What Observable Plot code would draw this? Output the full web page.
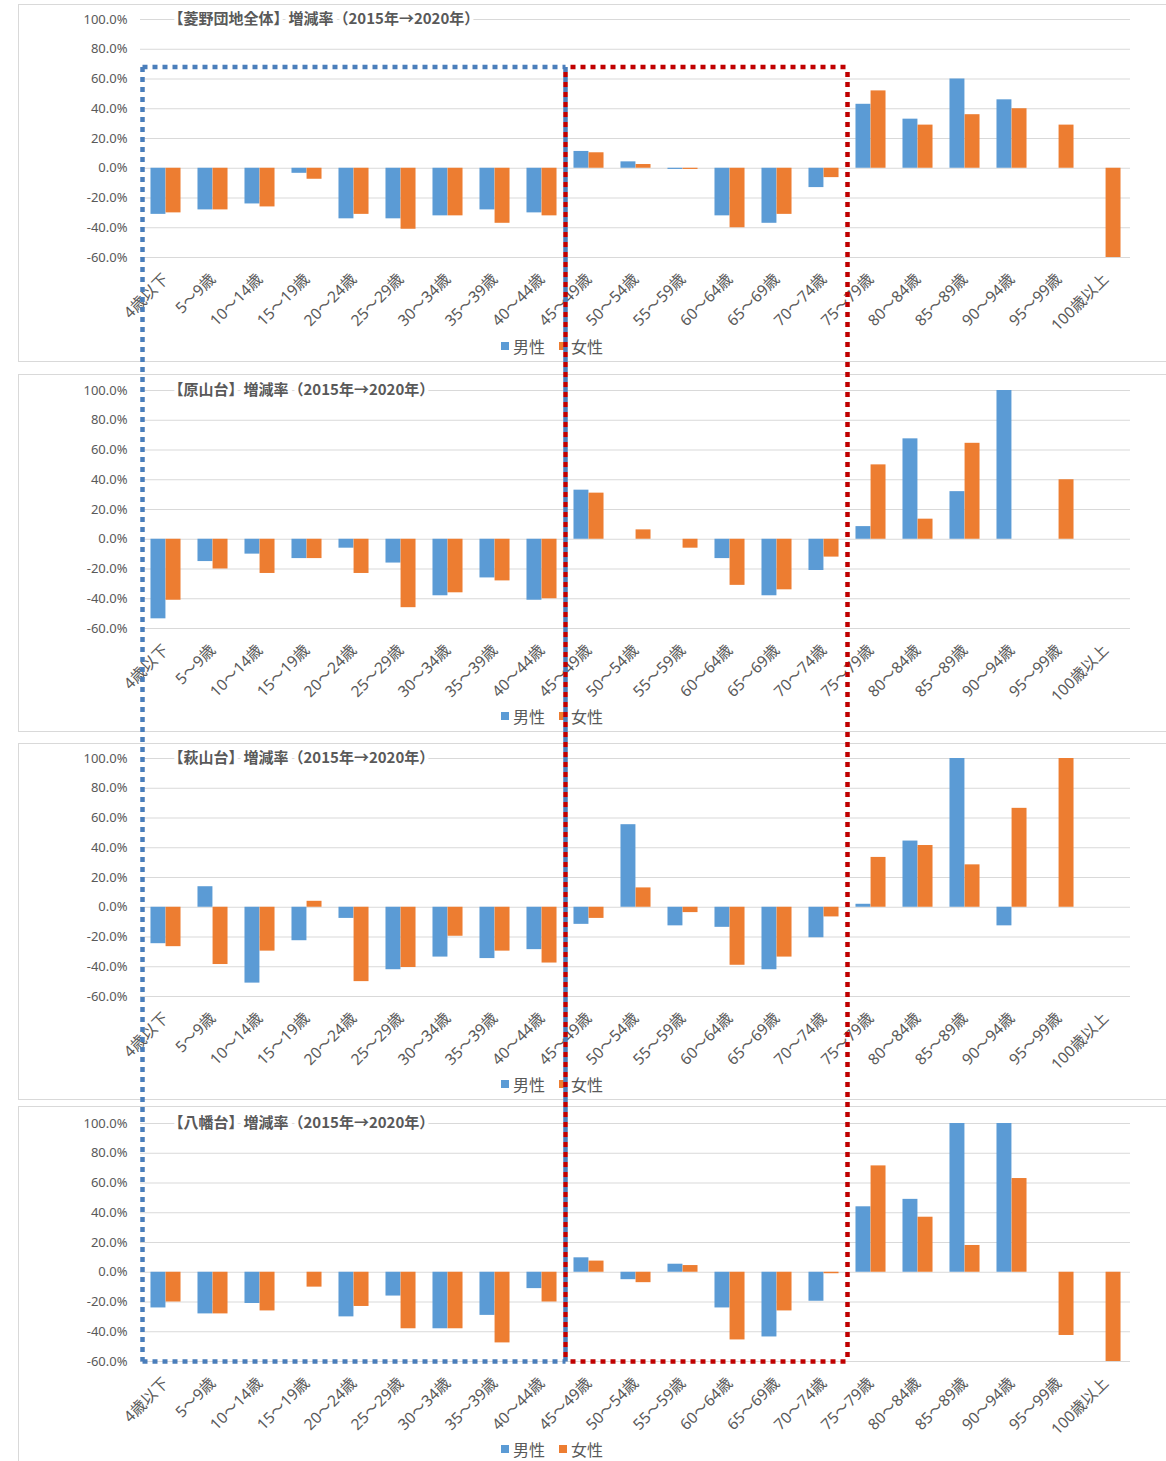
<!DOCTYPE html>
<html><head><meta charset="utf-8">
<script src="https://cdn.jsdelivr.net/npm/d3@7"></script>
<script src="https://cdn.jsdelivr.net/npm/@observablehq/plot@0.6"></script>
<style>
body{margin:0;background:#fff;}
#page{position:relative;width:1166px;height:1461px;overflow:hidden;font-family:"Noto Sans","Noto Sans CJK JP",sans-serif;}
.box{position:absolute;left:18px;width:1200px;border:1px solid #d9d9d9;box-sizing:border-box;}
.panel{position:absolute;left:0;}
.legend{position:absolute;display:flex;align-items:center;font-size:16px;color:#595959;line-height:20px;white-space:nowrap;font-family:"Noto Sans CJK JP",sans-serif;}
.sw{display:inline-block;width:8px;height:8px;margin-right:4px;}
.item{display:flex;align-items:center;margin-right:14px;}
#overlay{position:absolute;left:0;top:0;pointer-events:none;}
</style></head><body><div id="page"></div>
<script>
// ---- data ----
const ages = ["4歳以下","5～9歳","10～14歳","15～19歳","20～24歳","25～29歳","30～34歳","35～39歳","40～44歳","45～49歳","50～54歳","55～59歳","60～64歳","65～69歳","70～74歳","75～79歳","80～84歳","85～89歳","90～94歳","95～99歳","100歳以上"];
const sexes = ["男性","女性"];
const titles = [
  "【菱野団地全体】増減率（2015年→2020年）",
  "【原山台】増減率（2015年→2020年）",
  "【萩山台】増減率（2015年→2020年）",
  "【八幡台】増減率（2015年→2020年）"
];
const yTicks = [-60,-40,-20,0,20,40,60,80,100];
const maleAll    = [-31,-28,-24,-3.4,-34,-34,-32,-28,-30, 11.3,4.3,-0.8,-32,-37,-13,  43,33,60,46,null,null];
const femaleAll  = [-30,-28,-26,-7.4,-31,-41,-32,-37,-32, 10.4,2.5,-0.8,-40,-31,-6.3, 52,29,36,40,29,-60];
const maleHara   = [-53.5,-15,-10,-13,-6,-16,-38,-26,-41, 33,0,0,-13,-38,-21, 8.5,67.5,32,100,null,null];
const femaleHara = [-41,-20,-23,-13,-23,-46,-36,-28,-40, 31,6.3,-6,-31,-34,-12, 50,13.5,64.5,null,40,null];
const maleHagi   = [-24.5,13.8,-51,-22.5,-7.5,-42,-33.5,-34.5,-28.5, -11.5,55.5,-12.5,-13.5,-42,-20.5, 2,44.5,100,-12.5,null,null];
const femaleHagi = [-26.5,-38.5,-29.5,4,-50,-40.5,-19.5,-29.5,-37.5, -7.5,13,-3.6,-39,-33.5,-6.5, 33.5,41.5,28.5,66.5,100,null];
const maleYaha   = [-24,-28,-21,0,-30,-16,-38,-29,-11, 9.7,-5,5.4,-24,-43.5,-19.5, 44,49,100,100,null,null];
const femaleYaha = [-20,-28,-26,-10,-23,-38,-38,-47.5,-20, 7.5,-7,4.5,-45.5,-26,-1, 71.5,37,18,63,-42.5,-60];
const maleSeries = [maleAll, maleHara, maleHagi, maleYaha];
const femaleSeries = [femaleAll, femaleHara, femaleHagi, femaleYaha];
// dotted highlight boxes: from band start of `from` to band start of `to`
const boxTopValue = 68;     // % value on first panel where boxes start
const boxBottomValue = -60; // % value on last panel where boxes end
const highlightBoxes = [
  {from: "4歳以下", to: "45～49歳", color: "#4a7ebb", offset: 0},
  {from: "45～49歳", to: "75～79歳", color: "#c00000", offset: 5}
];
const colors = {"男性": "#5b9bd5", "女性": "#ed7d31"};

// ---- layout ----
const W = 1166, ML = 140, MR = 36, PH = 238;
const panelTops = [0, 370, 739, 1104];
const panelHeights = [370, 369, 365, 357];
const panelMT = [19, 20, 19, 19];
const boxTops = [4, 374, 743, 1106];
const boxBottoms = [362, 732, 1100, 1480];
const legendY = [336, 706, 1074, 1439];

const page = document.getElementById("page");
const charts = [];
const font = '"Noto Sans","Noto Sans CJK JP",sans-serif';
const cjkFont = '"Noto Sans CJK JP",sans-serif';

for (let i = 0; i < 4; i++) {
  const box = document.createElement("div");
  box.className = "box";
  box.style.top = boxTops[i] + "px";
  box.style.height = (boxBottoms[i] - boxTops[i]) + "px";
  page.appendChild(box);
}

const step = (W - ML - MR) / ages.length;
const barW = step * 0.32;
const outer = (step - 2 * barW) / 2;

for (let i = 0; i < 4; i++) {
  const rows = ages.map((a, j) => ({age: a, male: maleSeries[i][j], female: femaleSeries[i][j]}));
  const H = panelHeights[i];
  const chart = Plot.plot({
    width: W, height: H,
    marginLeft: ML, marginRight: MR, marginTop: panelMT[i], marginBottom: H - panelMT[i] - PH,
    style: {fontFamily: font, color: "#595959", background: "transparent", overflow: "visible"},
    x: {domain: ages, padding: 0, axis: null},
    y: {domain: [-60, 100], axis: null},
    marks: [
      Plot.gridY(yTicks, {stroke: "#d9d9d9", strokeOpacity: 1, strokeWidth: 1}),
      Plot.barY(rows, {x: "age", y: "male", fill: colors["男性"], insetLeft: outer, insetRight: step - outer - barW}),
      Plot.barY(rows, {x: "age", y: "female", fill: colors["女性"], insetLeft: outer + barW, insetRight: outer}),
      Plot.axisY(yTicks, {tickSize: 0, tickPadding: 13, fontSize: 13, tickFormat: d => d.toFixed(1) + "%", label: null}),
      Plot.axisX({tickSize: 0, tickPadding: 19, tickRotate: -45, fontSize: 15.5, label: null}),
      Plot.text([titles[i]], {frameAnchor: "top-left", dx: 28, text: d => d, textAnchor: "start", lineAnchor: "middle",
        fontSize: 15, fontWeight: "bold", fontFamily: cjkFont, fill: "#595959", stroke: "white", strokeWidth: 8})
    ]
  });
  chart.classList.add("panel");
  chart.style.top = panelTops[i] + "px";
  page.appendChild(chart);
  charts.push(chart);

  const lg = document.createElement("div");
  lg.className = "legend";
  lg.style.top = legendY[i] + "px";
  lg.style.left = "501px";
  lg.innerHTML = sexes.map(s => `<span class="item"><span class="sw" style="background:${colors[s]}"></span>${s}</span>`).join("");
  page.appendChild(lg);
}

// overlay of dotted boxes, positioned from the panels' scales
const xs = charts[0].scale("x");
const yTop = panelTops[0] + charts[0].scale("y").apply(boxTopValue);
const yBot = panelTops[3] + charts[3].scale("y").apply(boxBottomValue);
const edges = [];
for (const b of highlightBoxes) {
  const x1 = xs.apply(b.from), x2 = xs.apply(b.to);
  edges.push({x1, y1: yTop, x2, y2: yTop, c: b.color});
  edges.push({x1, y1: yBot, x2, y2: yBot, c: b.color});
  edges.push({x1, y1: yTop, x2: x1, y2: yBot, c: b.color});
  edges.push({x1: x2, y1: yTop, x2, y2: yBot, c: b.color});
}
const overlay = Plot.plot({
  width: W, height: 1461, margin: 0,
  style: {background: "transparent"},
  x: {type: "identity", axis: null}, y: {type: "identity", axis: null},
  marks: highlightBoxes.map(b =>
    Plot.link(edges.filter(e => e.c === b.color), {x1: "x1", y1: "y1", x2: "x2", y2: "y2",
      stroke: b.color, strokeWidth: 4.5, strokeDasharray: "5,5", strokeDashoffset: b.offset, strokeLinecap: "butt"})
  )
});
overlay.id = "overlay";
page.appendChild(overlay);
</script></body></html>
